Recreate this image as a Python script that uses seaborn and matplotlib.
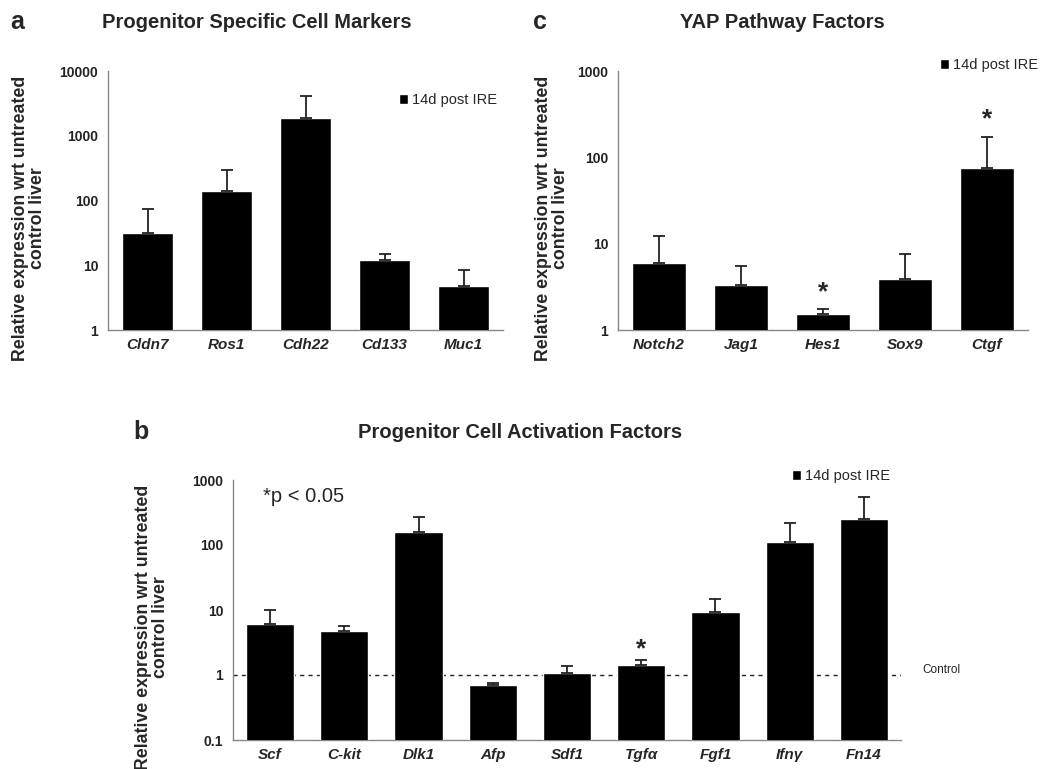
import numpy as np
import matplotlib
matplotlib.use("Agg")
import matplotlib.pyplot as plt
import matplotlib.ticker as mticker
import seaborn as sns

# panel a
genes_a = ["Cldn7", "Ros1", "Cdh22", "Cd133", "Muc1"]
vals_a = [31, 140, 1850, 12, 4.7]
upper_a = [74, 295, 4050, 15, 8.3]

# panel c
genes_c = ["Notch2", "Jag1", "Hes1", "Sox9", "Ctgf"]
vals_c = [6.0, 3.3, 1.55, 3.9, 76]
upper_c = [12.3, 5.5, 1.73, 7.6, 172]
star_c = ["Hes1", "Ctgf"]

# panel b
genes_b = ["Scf", "C-kit", "Dlk1", "Afp", "Sdf1", "Tgf\u03b1", "Fgf1", "Ifn\u03b3", "Fn14"]
vals_b = [6.0, 4.8, 160, 0.69, 1.09, 1.45, 9.3, 112, 250]
upper_b = [10, 5.7, 268, 0.76, 1.38, 1.73, 14.8, 215, 550]
star_b = ["Tgf\u03b1"]

sns.set_style("white")
plt.rcParams["font.family"] = ["Liberation Sans", "DejaVu Sans"]

fig = plt.figure(figsize=(10.62, 7.69), dpi=100)
W, H = 1062, 769


def px_axes(l, t, r, b):
    return fig.add_axes([l / W, 1 - b / H, (r - l) / W, (b - t) / H])


def draw(ax, genes, vals, upper, ylim, stars=(), star_off=1.6):
    sns.barplot(x=genes, y=vals, color="black", width=0.65, saturation=1,
                errorbar=None, ax=ax, label="14d post IRE", zorder=3)
    x = np.arange(len(genes))
    lo = np.zeros(len(vals))
    hi = np.array(upper) - np.array(vals)
    ax.errorbar(x, vals, yerr=[lo, hi], fmt="none", ecolor="#222222",
                elinewidth=1.3, capsize=4, capthick=1.3, zorder=4)
    ax.set_yscale("log")
    ax.set_ylim(*ylim)
    ax.set_xlim(-0.5, len(genes) - 0.5)
    ax.yaxis.set_minor_locator(mticker.NullLocator())
    ax.yaxis.set_major_formatter(mticker.FuncFormatter(lambda v, p: "%g" % v))
    ax.set_xticks(x)
    ax.set_xticks(np.arange(len(genes) + 1) - 0.5, minor=True)
    ax.tick_params(axis="x", which="major", length=0, pad=6)
    ax.tick_params(axis="x", which="minor", length=4, color="#888888", direction="out")
    ax.tick_params(axis="y", length=4, color="#888888", direction="out", labelsize=10,
                   pad=3, labelcolor="#222222")
    for lab in ax.get_yticklabels():
        lab.set_fontweight("bold")
    for lab in ax.get_xticklabels():
        lab.set_fontweight("bold")
        lab.set_fontstyle("italic")
        lab.set_fontsize(11)
    for s in ["top", "right"]:
        ax.spines[s].set_visible(False)
    for s in ["left", "bottom"]:
        ax.spines[s].set_color("#888888")
        ax.spines[s].set_linewidth(1)
    ax.set_xlabel("")
    ax.set_ylabel("")
    for g in stars:
        i = genes.index(g)
        ax.text(i, upper[i] * star_off, "*", ha="center", va="center",
                fontsize=19, fontweight="bold")


def legend(ax, xa, ya):
    ax.legend(loc="center right", bbox_to_anchor=(xa, ya), frameon=False,
              handlelength=0.65, handleheight=0.65, handletextpad=0.25,
              borderpad=0, borderaxespad=0, fontsize=10.5)


ylab = "Relative expression wrt untreated\ncontrol liver"
ylab_kw = dict(rotation=90, ha="center", va="center", fontsize=12.8,
               fontweight="bold", multialignment="center", linespacing=1.05)
title_kw = dict(ha="center", va="center", fontsize=14.5, fontweight="bold")
letter_kw = dict(ha="left", va="center", fontsize=18, fontweight="bold")

ax_a = px_axes(108, 71, 503, 330)
draw(ax_a, genes_a, vals_a, upper_a, (1, 10000))
legend(ax_a, 0.985, 0.888)
fig.text(29 / W, 1 - 218 / H, ylab, **ylab_kw)
fig.text(257 / W, 1 - 22 / H, "Progenitor Specific Cell Markers", **title_kw)
fig.text(10 / W, 1 - 22 / H, "a", **letter_kw)

ax_c = px_axes(618, 71, 1028, 330)
draw(ax_c, genes_c, vals_c, upper_c, (1, 1000), stars=star_c, star_off=1.6)
legend(ax_c, 1.024, 1.022)
fig.text(552 / W, 1 - 218 / H, ylab, **ylab_kw)
fig.text(782 / W, 1 - 22 / H, "YAP Pathway Factors", **title_kw)
fig.text(533 / W, 1 - 22 / H, "c", **letter_kw)

ax_b = px_axes(233, 480, 901, 740)
ax_b.axhline(1, ls=(0, (3, 3)), color="#222222", lw=1, zorder=1)
draw(ax_b, genes_b, vals_b, upper_b, (0.1, 1000), stars=star_b, star_off=1.45)
legend(ax_b, 0.983, 1.015)
fig.text(922 / W, 1 - 670 / H, "Control", ha="left", va="center", fontsize=8.5)
ax_b.text(0.045, 0.935, "*p < 0.05", transform=ax_b.transAxes, ha="left",
          va="center", fontsize=14.5)
fig.text(152 / W, 1 - 627 / H, ylab, **ylab_kw)
fig.text(520 / W, 1 - 432 / H, "Progenitor Cell Activation Factors", **title_kw)
fig.text(133 / W, 1 - 432 / H, "b", **letter_kw)

fig.savefig("out.png", dpi=100)
